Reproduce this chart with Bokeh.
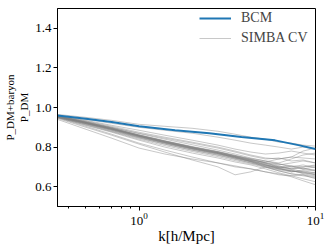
from bokeh.plotting import figure
from bokeh.models import (Range1d, FixedTicker, Legend, LegendItem,
                          PrintfTickFormatter, LogTickFormatter)
from bokeh.embed import file_html
from bokeh.resources import INLINE

# ---- data -------------------------------------------------------------
bcm_k = [0.345, 0.5, 0.7, 1.0, 1.6, 2.5, 3.8, 5.9, 8.0, 10.0]
bcm_ratio = [0.96, 0.943, 0.927, 0.905, 0.885, 0.87, 0.851, 0.834, 0.81, 0.79]

simba_k = [0.345, 0.5, 0.7, 1.0, 1.4, 2.0, 2.8, 3.5, 4.3, 5.2, 6.2, 7.3, 8.5, 10.0]
simba_ratios = [
    [0.965, 0.95, 0.935, 0.915, 0.905, 0.895, 0.88, 0.865, 0.85, 0.84, 0.825, 0.82, 0.81, 0.805],
    [0.96, 0.94, 0.92, 0.90, 0.885, 0.87, 0.85, 0.835, 0.82, 0.81, 0.80, 0.79, 0.80, 0.79],
    [0.96, 0.935, 0.91, 0.885, 0.86, 0.835, 0.81, 0.79, 0.775, 0.765, 0.77, 0.78, 0.77, 0.76],
    [0.958, 0.93, 0.90, 0.87, 0.845, 0.82, 0.795, 0.775, 0.755, 0.74, 0.745, 0.73, 0.735, 0.72],
    [0.955, 0.925, 0.895, 0.86, 0.83, 0.80, 0.775, 0.755, 0.74, 0.72, 0.70, 0.69, 0.695, 0.68],
    [0.955, 0.92, 0.89, 0.855, 0.825, 0.795, 0.77, 0.745, 0.725, 0.705, 0.69, 0.68, 0.67, 0.665],
    [0.952, 0.918, 0.885, 0.85, 0.82, 0.79, 0.765, 0.745, 0.73, 0.715, 0.70, 0.705, 0.69, 0.70],
    [0.95, 0.915, 0.88, 0.845, 0.815, 0.785, 0.76, 0.74, 0.72, 0.70, 0.68, 0.665, 0.655, 0.645],
    [0.953, 0.92, 0.89, 0.855, 0.822, 0.792, 0.767, 0.748, 0.728, 0.71, 0.695, 0.675, 0.68, 0.67],
    [0.957, 0.926, 0.897, 0.862, 0.832, 0.803, 0.778, 0.758, 0.738, 0.72, 0.71, 0.72, 0.73, 0.72],
    [0.95, 0.91, 0.875, 0.835, 0.80, 0.77, 0.745, 0.725, 0.71, 0.69, 0.67, 0.655, 0.64, 0.625],
    [0.948, 0.905, 0.865, 0.82, 0.785, 0.75, 0.72, 0.70, 0.69, 0.675, 0.665, 0.65, 0.63, 0.61],
    [0.945, 0.90, 0.86, 0.815, 0.775, 0.735, 0.70, 0.66, 0.675, 0.70, 0.69, 0.68, 0.675, 0.66],
    [0.94, 0.89, 0.845, 0.795, 0.765, 0.74, 0.72, 0.705, 0.69, 0.675, 0.66, 0.655, 0.66, 0.65],
    [0.955, 0.923, 0.892, 0.858, 0.828, 0.798, 0.772, 0.752, 0.735, 0.725, 0.74, 0.75, 0.745, 0.74],
    [0.958, 0.928, 0.90, 0.868, 0.84, 0.812, 0.785, 0.765, 0.745, 0.73, 0.715, 0.70, 0.69, 0.685],
    [0.953, 0.921, 0.889, 0.853, 0.823, 0.793, 0.768, 0.75, 0.733, 0.712, 0.69, 0.68, 0.67, 0.66],
    [0.956, 0.924, 0.893, 0.857, 0.826, 0.796, 0.771, 0.751, 0.73, 0.71, 0.695, 0.70, 0.71, 0.695],
    [0.951, 0.917, 0.884, 0.847, 0.815, 0.784, 0.758, 0.738, 0.72, 0.705, 0.695, 0.685, 0.665, 0.655],
    [0.954, 0.922, 0.891, 0.855, 0.824, 0.794, 0.77, 0.75, 0.727, 0.70, 0.685, 0.675, 0.685, 0.68],
    [0.957, 0.925, 0.895, 0.86, 0.83, 0.80, 0.776, 0.758, 0.742, 0.73, 0.72, 0.74, 0.76, 0.77],
    [0.955, 0.924, 0.893, 0.857, 0.827, 0.797, 0.772, 0.752, 0.734, 0.718, 0.705, 0.69, 0.675, 0.67],
    [0.96, 0.932, 0.905, 0.875, 0.85, 0.825, 0.80, 0.78, 0.76, 0.745, 0.74, 0.75, 0.78, 0.795],
    [0.952, 0.919, 0.887, 0.851, 0.82, 0.79, 0.764, 0.744, 0.726, 0.708, 0.70, 0.69, 0.70, 0.705],
    [0.949, 0.912, 0.878, 0.84, 0.808, 0.778, 0.752, 0.732, 0.715, 0.698, 0.68, 0.665, 0.66, 0.64],
    [0.956, 0.926, 0.896, 0.861, 0.831, 0.801, 0.776, 0.755, 0.736, 0.722, 0.715, 0.705, 0.70, 0.71],
]

y_ticks = [0.6, 0.8, 1.0, 1.2, 1.4]
x_major_ticks = [1, 10]
x_minor_ticks = [0.4, 0.5, 0.6, 0.7, 0.8, 0.9, 2, 3, 4, 5, 6, 7, 8, 9]
legend_labels = ["BCM", "SIMBA CV"]
x_label = "k[h/Mpc]"
y_label = "P_DM+baryon\nP_DM"

SERIF = "Liberation Serif"

# ---- figure -------------------------------------------------------------
p = figure(width=332, height=249, x_axis_type="log",
           x_range=Range1d(0.345, 10.0), y_range=Range1d(0.5, 1.5),
           output_backend="svg", toolbar_location=None,
           min_border_left=53, min_border_right=17, min_border_top=8,
           min_border_bottom=43)
p.xgrid.visible = False
p.ygrid.visible = False
p.outline_line_color = "black"
p.outline_line_width = 1
p.background_fill_color = "white"
p.border_fill_color = "white"

simba_r = [p.line(simba_k, r, line_color="gray", line_alpha=0.55, line_width=0.8)
           for r in simba_ratios]
bcm_r = p.line(bcm_k, bcm_ratio, line_color="#1f77b4", line_width=2)

for ax in (p.xaxis[0], p.yaxis[0]):
    ax.axis_line_color = "black"
    ax.major_tick_line_color = "black"
    ax.major_tick_in = 0
    ax.major_tick_out = 4
    ax.minor_tick_in = 0
    ax.minor_tick_out = 2
    ax.major_label_text_font = SERIF
    ax.major_label_text_font_size = "13px"
    ax.major_label_text_color = "black"
    ax.major_label_standoff = 2

p.yaxis.ticker = FixedTicker(ticks=y_ticks)
p.yaxis.formatter = PrintfTickFormatter(format="%.1f")
p.yaxis.minor_tick_line_color = None
p.yaxis.axis_label = y_label
p.yaxis.axis_label_text_font = SERIF
p.yaxis.axis_label_text_font_style = "normal"
p.yaxis.axis_label_text_font_size = "11px"
p.yaxis.axis_label_text_color = "black"
p.yaxis.axis_label_standoff = 2

p.xaxis.ticker = FixedTicker(ticks=x_major_ticks, minor_ticks=x_minor_ticks)
p.xaxis.formatter = LogTickFormatter(min_exponent=0)
p.xaxis.minor_tick_line_color = "black"
p.xaxis.axis_label = x_label
p.xaxis.axis_label_text_font = SERIF
p.xaxis.axis_label_text_font_style = "normal"
p.xaxis.axis_label_text_font_size = "15px"
p.xaxis.axis_label_text_color = "black"
p.xaxis.axis_label_standoff = 0

legend = Legend(items=[LegendItem(label=legend_labels[0], renderers=[bcm_r]),
                       LegendItem(label=legend_labels[1], renderers=[simba_r[0]])],
                location="top_right", margin=0, padding=6,
                glyph_width=32, glyph_height=20, label_height=20, label_width=74,
                label_standoff=10, spacing=0,
                label_text_font=SERIF, label_text_font_size="14px",
                border_line_color=None, background_fill_alpha=0)
p.add_layout(legend)

open("out.html", "w").write(file_html(p, INLINE))
